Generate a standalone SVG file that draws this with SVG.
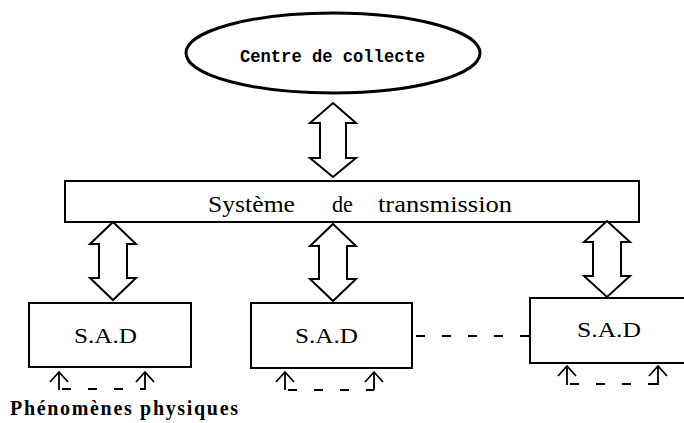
<svg xmlns="http://www.w3.org/2000/svg" width="684" height="423" viewBox="0 0 684 423">
<style>
.box{fill:#fff;stroke:#000;stroke-width:2}
.darr{fill:#fff;stroke:#000;stroke-width:2;stroke-linejoin:miter}
.sm{fill:none;stroke:#000;stroke-width:1.8}
.dash{fill:none;stroke:#000;stroke-width:2;stroke-dasharray:9 17}
.serif{font-family:"Liberation Serif","Times New Roman",serif;fill:#000}
.mono{font-family:"Liberation Mono","Courier New",monospace;fill:#000;font-weight:bold}
.sad{font-size:22px}
</style>
<g id="centre">
<ellipse cx="333" cy="53" rx="147" ry="40" fill="#fff" stroke="#000" stroke-width="3"/>
<text class="mono" x="240" y="62" font-size="18" textLength="185" lengthAdjust="spacingAndGlyphs">Centre de collecte</text>
</g>
<g id="transmission">
<rect class="box" x="65" y="181" width="574" height="41"/>
<text class="serif" y="212" font-size="23"><tspan x="208" textLength="87" lengthAdjust="spacingAndGlyphs">Système</tspan><tspan x="332" textLength="21" lengthAdjust="spacingAndGlyphs">de</tspan><tspan x="378" textLength="134" lengthAdjust="spacingAndGlyphs">transmission</tspan></text>
</g>
<g id="sad1">
<rect class="box" x="29" y="303" width="162" height="64"/>
<text class="serif sad" x="74" y="343" textLength="63" lengthAdjust="spacingAndGlyphs">S.A.D</text>
</g>
<g id="sad2">
<rect class="box" x="251" y="303" width="161" height="65"/>
<text class="serif sad" x="295" y="343" textLength="63" lengthAdjust="spacingAndGlyphs">S.A.D</text>
</g>
<g id="sad3">
<rect class="box" x="530" y="298" width="160" height="65"/>
<text class="serif sad" x="577" y="337" textLength="64" lengthAdjust="spacingAndGlyphs">S.A.D</text>
</g>
<g id="phenomenes">
<text class="serif" x="10" y="415" font-size="20" font-weight="bold" textLength="228" lengthAdjust="spacing">Phénomènes physiques</text>
</g>
<g id="connectors">
<polygon class="darr" points="333,103 356,123 346,123 346,158 356,158 333,177 310,158 320,158 320,123 310,123"/>
<polygon class="darr" points="113,222 136,244 127,244 127,278 136,278 113,300 90,278 99,278 99,244 90,244"/>
<polygon class="darr" points="333,224 356,246 347,246 347,279 356,279 333,301 310,279 319,279 319,246 310,246"/>
<polygon class="darr" points="607,221 630,242 621,242 621,276 630,276 607,297 584,276 593,276 593,242 584,242"/>
<path class="sm" d="M59,390V372M50,382L59,372L68,382M145,390V372M136,382L145,372L154,382"/>
<path class="dash" d="M62,389H145"/>
<path class="sm" d="M285,390V372M276,382L285,372L294,382M374,390V372M365,382L374,372L383,382"/>
<path class="dash" d="M288,390H374"/>
<path class="sm" d="M567,385V366M558,376L567,366L576,376M658,385V366M649,376L658,366L667,376"/>
<path class="dash" d="M570,384H658"/>
<path class="dash" d="M416,336H530" stroke-dasharray="10 20 10 20 10 20 14"/>
</g>
</svg>
